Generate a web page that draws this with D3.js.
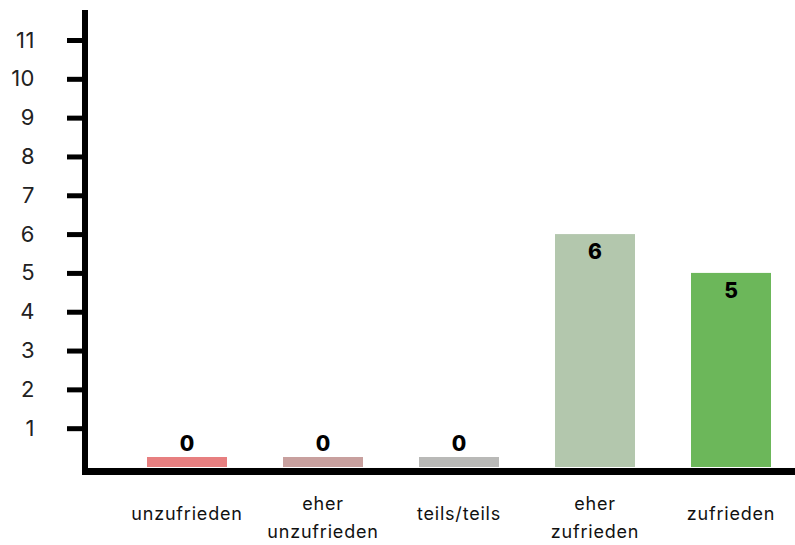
<!DOCTYPE html>
<html>
<head>
<meta charset="utf-8">
<script src="https://cdn.jsdelivr.net/npm/d3@7"></script>
<style>
  html, body { margin: 0; padding: 0; background: #fff; }
  svg { display: block; }
</style>
</head>
<body>
<svg id="chart" width="795" height="545"></svg>
<script>
const categories = ["unzufrieden", "eher unzufrieden", "teils/teils", "eher zufrieden", "zufrieden"];
const categoryLines = [["unzufrieden"], ["eher", "unzufrieden"], ["teils/teils"], ["eher", "zufrieden"], ["zufrieden"]];
const values = [0, 0, 0, 6, 5];
const colors = ["#e77f80", "#c8a09e", "#b9b9b7", "#b3c7ad", "#6cb75a"];
const yTicks = [1, 2, 3, 4, 5, 6, 7, 8, 9, 10, 11];

const svg = d3.select("#chart");
const axisX = 85, baseY = 467;

const y = d3.scaleLinear().domain([0, 11]).range([baseY, 40]);
const x = d3.scaleBand().domain(categories).range([91, 827])
  .paddingInner(56 / 136).paddingOuter(56 / 136);

// bars
const minH = 10;
svg.append("g").selectAll("rect").data(values).join("rect")
  .attr("x", (d, i) => x(categories[i]))
  .attr("width", x.bandwidth())
  .attr("y", d => Math.min(y(d), baseY - minH))
  .attr("height", d => Math.max(baseY - y(d), minH))
  .attr("fill", (d, i) => colors[i]);

// value labels
svg.append("g").selectAll("text").data(values).join("text")
  .attr("x", (d, i) => x(categories[i]) + x.bandwidth() / 2)
  .attr("y", d => {
    const top = Math.min(y(d), baseY - minH);
    return (baseY - top > 30) ? top + 25 : top - 6;
  })
  .attr("text-anchor", "middle")
  .attr("font-family", "Inter, sans-serif")
  .attr("font-weight", 800)
  .attr("font-size", 21)
  .attr("fill", "#000")
  .text(d => d);

// y axis
const yAxis = svg.append("g")
  .attr("transform", `translate(${axisX},0)`)
  .call(d3.axisLeft(y).tickValues(yTicks).tickSize(18).tickPadding(32).tickFormat(d3.format("d")));
yAxis.select(".domain").remove();
yAxis.selectAll(".tick line").attr("stroke", "#000").attr("stroke-width", 5);
yAxis.selectAll(".tick text")
  .attr("font-family", "Inter, sans-serif")
  .attr("font-size", 22)
  .attr("letter-spacing", 0.5)
  .attr("fill", "#222");

// axis lines
svg.append("line")
  .attr("x1", axisX).attr("x2", axisX)
  .attr("y1", 10).attr("y2", 475)
  .attr("stroke", "#000").attr("stroke-width", 6);
svg.append("line")
  .attr("x1", 82).attr("x2", 795)
  .attr("y1", 471.5).attr("y2", 471.5)
  .attr("stroke", "#000").attr("stroke-width", 7);

// category labels
const catG = svg.append("g").selectAll("text").data(categoryLines).join("text")
  .attr("text-anchor", "middle")
  .attr("font-family", "Inter, sans-serif")
  .attr("font-size", 18)
  .attr("letter-spacing", 0.8)
  .attr("fill", "#111")
  .attr("transform", (d, i) => `translate(${x(categories[i]) + x.bandwidth() / 2},0)`);
catG.each(function(lines) {
  const t = d3.select(this);
  const start = lines.length === 1 ? 520 : 510;
  lines.forEach((ln, j) => {
    t.append("tspan").attr("x", 0).attr("y", start + j * 28).text(ln);
  });
});
</script>
</body>
</html>
